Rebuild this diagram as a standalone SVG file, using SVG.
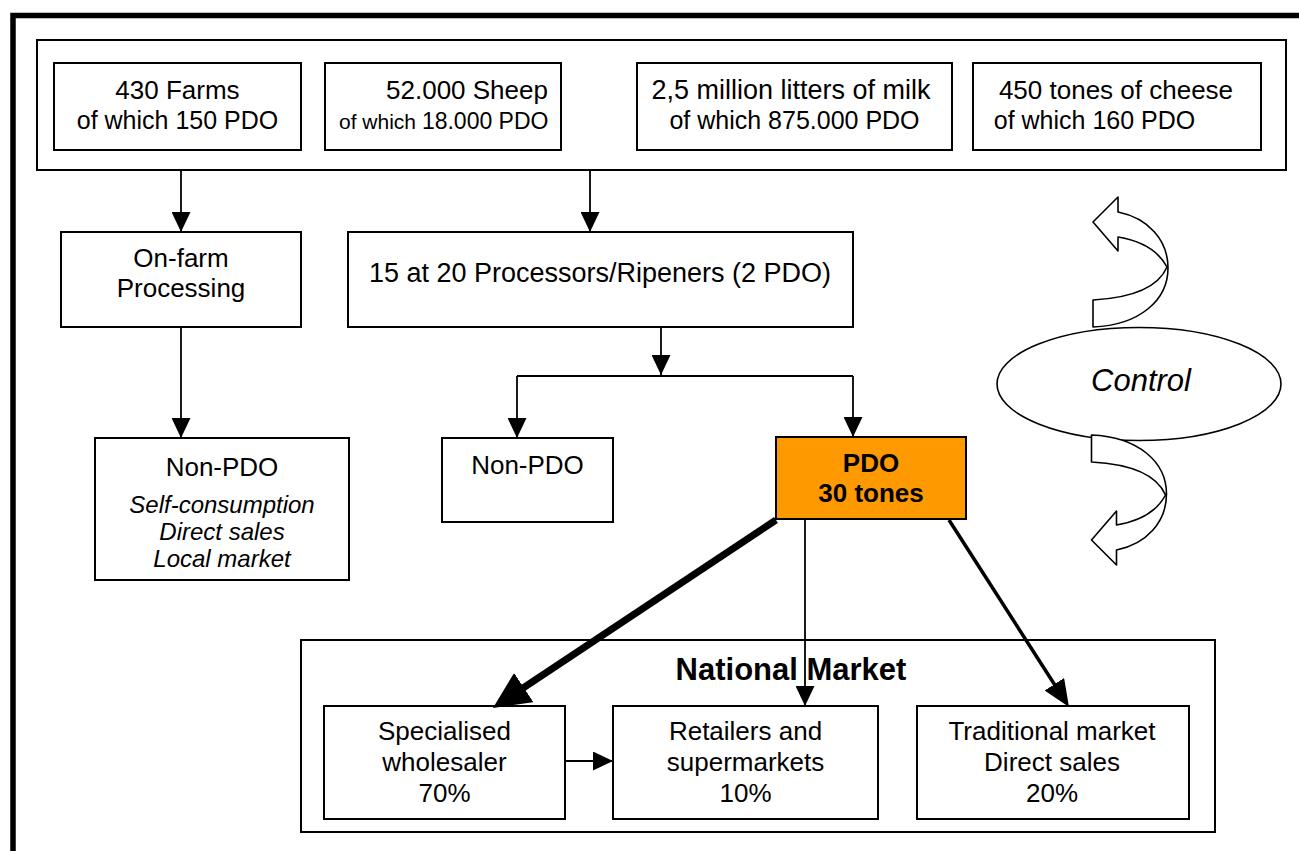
<svg xmlns="http://www.w3.org/2000/svg" width="1299" height="851" viewBox="0 0 1299 851">
<defs>
<style>
text{font-family:"Liberation Sans",Arial,sans-serif;fill:#000;text-anchor:middle}
.t{font-size:26px}
.s{font-size:25px}
.i{font-size:24px;font-style:italic}
.b{font-weight:bold;font-size:26px}
.box{fill:#fff;stroke:#000;stroke-width:2}
.ln{fill:none;stroke:#000;stroke-width:1.8}
.curv{fill:#fff;stroke:#000;stroke-width:1.6;stroke-linejoin:round}
</style>
<marker id="ah" markerUnits="userSpaceOnUse" markerWidth="20" markerHeight="19" viewBox="0 0 20 19" refX="20" refY="9.5" orient="auto"><path d="M0,0 L20,9.5 L0,19 Z" fill="#000"/></marker>
<marker id="ahM" markerUnits="userSpaceOnUse" markerWidth="27" markerHeight="23" viewBox="0 0 27 23" refX="7" refY="11.5" orient="auto"><path d="M0,0 L27,11.5 L0,23 Z" fill="#000"/></marker>
<marker id="ahL" markerUnits="userSpaceOnUse" markerWidth="37" markerHeight="35" viewBox="0 0 37 35" refX="9" refY="17.5" orient="auto"><path d="M0,0 L37,17.5 L0,35 Z" fill="#000"/></marker>
<path id="curl" class="curv" d="M1093,327 C1140,325 1168,300 1168,268 C1168,240 1148,218 1118,212 L1118,197 L1093,222 L1118,251 L1118,237 C1142,241 1158,250 1167,267 C1158,288 1130,298 1093,300 Z"/>
</defs>
<rect width="1299" height="851" fill="#fff"/>
<path d="M13,851 V15.5 H1299" fill="none" stroke="#000" stroke-width="5.5"/>

<g id="sources">
<rect class="box" x="37" y="40" width="1249" height="130"/>
</g>
<g id="farms">
<rect class="box" x="54" y="63" width="247" height="87"/>
<text class="t" x="177.5" y="99">430 Farms</text>
<text class="s" x="177.5" y="129">of which 150 PDO</text>
</g>
<g id="sheep">
<rect class="box" x="325" y="63" width="236" height="87"/>
<text class="t" x="467" y="99">52.000 Sheep</text>
<text x="339" y="129" style="text-anchor:start;font-size:23px"><tspan style="font-size:21px">of which </tspan>18.000 PDO</text>
</g>
<g id="milk">
<rect class="box" x="637" y="63" width="315" height="87"/>
<text x="791" y="99" style="font-size:27px">2,5 million litters of milk</text>
<text class="s" x="794.5" y="129">of which 875.000 PDO</text>
</g>
<g id="cheese">
<rect class="box" x="973" y="63" width="288" height="87"/>
<text class="t" x="1116" y="99">450 tones of cheese</text>
<text class="s" x="1094.5" y="129">of which 160 PDO</text>
</g>

<g id="onfarm">
<rect class="box" x="61" y="232" width="240" height="95"/>
<text class="t" x="181" y="267">On-farm</text>
<text class="t" x="181" y="297">Processing</text>
</g>
<g id="processors">
<rect class="box" x="348" y="232" width="505" height="95"/>
<text x="600" y="282" style="font-size:27px">15 at 20 Processors/Ripeners (2 PDO)</text>
</g>
<g id="nonpdo-farm">
<rect class="box" x="95" y="438" width="254" height="142"/>
<text class="t" x="222" y="476">Non-PDO</text>
<text class="i" x="222" y="513">Self-consumption</text>
<text class="i" x="222" y="540">Direct sales</text>
<text class="i" x="222" y="567">Local market</text>
</g>
<g id="nonpdo">
<rect class="box" x="442" y="438" width="171" height="84"/>
<text class="t" x="527.5" y="474">Non-PDO</text>
</g>
<g id="pdo">
<rect x="776" y="437" width="190" height="82" fill="#FF9900" stroke="#000" stroke-width="2"/>
<text class="b" x="871" y="472">PDO</text>
<text class="b" x="871" y="502">30 tones</text>
</g>

<g id="control">
<ellipse cx="1139" cy="384" rx="142" ry="56.5" fill="#fff" stroke="#000" stroke-width="1.6"/>
<text x="1141" y="391" style="font-size:31px;font-style:italic">Control</text>
<use href="#curl"/>
<use href="#curl" transform="translate(-1.5,762) scale(1,-1)"/>
</g>

<g id="national">
<rect class="box" x="301" y="640" width="914" height="192"/>
<text x="791" y="680" style="font-size:31px;font-weight:bold">National Market</text>
</g>
<g id="wholesaler">
<rect class="box" x="324" y="706" width="241" height="113"/>
<text class="t" x="444.5" y="740">Specialised</text>
<text class="t" x="444.5" y="771">wholesaler</text>
<text class="t" x="444.5" y="802">70%</text>
</g>
<g id="retailers">
<rect class="box" x="613" y="706" width="265" height="113"/>
<text class="t" x="745.5" y="740">Retailers and</text>
<text class="t" x="745.5" y="771">supermarkets</text>
<text class="t" x="745.5" y="802">10%</text>
</g>
<g id="traditional">
<rect class="box" x="917" y="706" width="272" height="113"/>
<text class="t" x="1052" y="740">Traditional market</text>
<text class="t" x="1052" y="771">Direct sales</text>
<text class="t" x="1052" y="802">20%</text>
</g>

<g id="connectors">
<path class="ln" d="M181,170 V232" marker-end="url(#ah)"/>
<path class="ln" d="M590,170 V232" marker-end="url(#ah)"/>
<path class="ln" d="M181,327 V438" marker-end="url(#ah)"/>
<path class="ln" d="M661,327 V375" marker-end="url(#ah)"/>
<path class="ln" d="M517,376 H853"/>
<path class="ln" d="M517,376 V438" marker-end="url(#ah)"/>
<path class="ln" d="M853,376 V437" marker-end="url(#ah)"/>
<path class="ln" d="M805,519 V706" marker-end="url(#ah)"/>
<path class="ln" d="M565,761 H613" marker-end="url(#ah)"/>
<path fill="none" stroke="#000" stroke-width="7" d="M776,520 L516.3,692.5" marker-end="url(#ahL)"/>
<path fill="none" stroke="#000" stroke-width="3.5" d="M949,520 L1058.2,690.2" marker-end="url(#ahM)"/>
</g>
</svg>
